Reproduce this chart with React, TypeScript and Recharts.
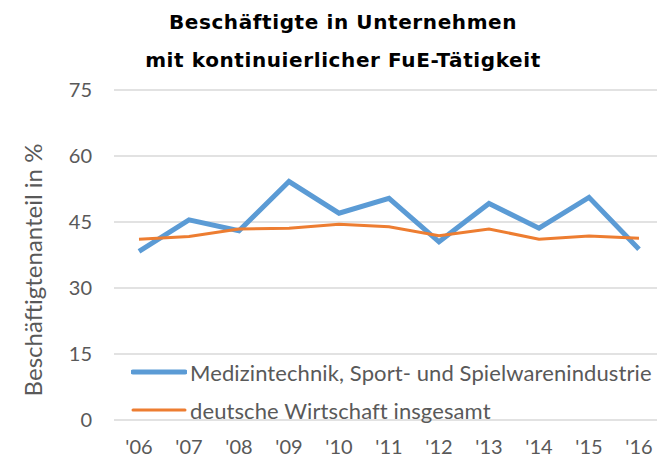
import React from 'react';
import { LineChart, Line, XAxis, YAxis, CartesianGrid } from 'recharts';

const years = ["'06", "'07", "'08", "'09", "'10", "'11", "'12", "'13", "'14", "'15", "'16"];
const medizinSport = [38.3, 45.5, 43.0, 54.2, 47.0, 50.4, 40.5, 49.2, 43.6, 50.6, 38.8];
const deutscheWirtschaft = [41.1, 41.7, 43.4, 43.6, 44.5, 43.9, 41.9, 43.4, 41.1, 41.8, 41.3];
const yTicks = [0, 15, 30, 45, 60, 75];

const seriesInfo = [
  { key: 'medizin', name: 'Medizintechnik, Sport- und Spielwarenindustrie', color: '#5B9BD5', width: 5 },
  { key: 'gesamt', name: 'deutsche Wirtschaft insgesamt', color: '#ED7D31', width: 3 },
];

const chartData = years.map((y, i) => ({
  year: y,
  medizin: medizinSport[i],
  gesamt: deutscheWirtschaft[i],
}));

const axisFont = 'Lato, "Open Sans", sans-serif';
const tickStyle = { fontSize: 20, fill: '#595959', fontFamily: axisFont };

const YLabel = () => (
  <text
    x={32}
    y={270}
    transform="rotate(-90 32 270)"
    textAnchor="middle"
    dominantBaseline="central"
    fontSize={24}
    fill="#595959"
    fontFamily={axisFont}
  >
    Beschäftigtenanteil in %
  </text>
);

export default function App() {
  return (
    <div style={{ position: 'absolute', left: 0, top: 0, width: 657, height: 457, overflow: 'hidden', background: '#fff' }}>
      <div style={{ position: 'absolute', left: 0, top: 0, width: 686, textAlign: 'center', fontFamily: '"DejaVu Sans", Verdana, sans-serif', fontWeight: 'bold', fontSize: 20, letterSpacing: 0.6, color: '#000', lineHeight: '38px', paddingTop: 3 }}>
        <div>Beschäftigte in Unternehmen</div>
        <div>mit kontinuierlicher FuE-Tätigkeit</div>
      </div>
      <LineChart width={664} height={457} data={chartData} margin={{ top: 90, right: 0, left: 0, bottom: 7 }}>
        <CartesianGrid stroke="#D9D9D9" strokeWidth={1.5} vertical={false} />
        <XAxis
          dataKey="year"
          axisLine={false}
          tickLine={false}
          tick={tickStyle}
          tickMargin={14}
          height={30}
          interval={0}
          padding={{ left: 25, right: 25 }}
        />
        <YAxis
          domain={[0, 75]}
          ticks={yTicks}
          axisLine={false}
          tickLine={false}
          tick={tickStyle}
          tickMargin={16}
          width={114}
          label={<YLabel />}
        />
        {seriesInfo.map(s => (
          <Line
            key={s.key}
            type="linear"
            dataKey={s.key}
            name={s.name}
            stroke={s.color}
            strokeWidth={s.width}
            dot={false}
            isAnimationActive={false}
          />
        ))}
      </LineChart>
      <div style={{ position: 'absolute', left: 131, top: 353, fontFamily: axisFont, fontSize: 22, letterSpacing: 0.1, color: '#595959' }}>
        {seriesInfo.map(s => (
          <div key={s.key} style={{ display: 'flex', alignItems: 'center', height: 38, whiteSpace: 'nowrap' }}>
            <svg width={56} height={10} style={{ marginRight: 3 }}>
              <line x1={2} y1={5} x2={54} y2={5} stroke={s.color} strokeWidth={s.width} strokeLinecap="round" />
            </svg>
            <span>{s.name}</span>
          </div>
        ))}
      </div>
    </div>
  );
}
